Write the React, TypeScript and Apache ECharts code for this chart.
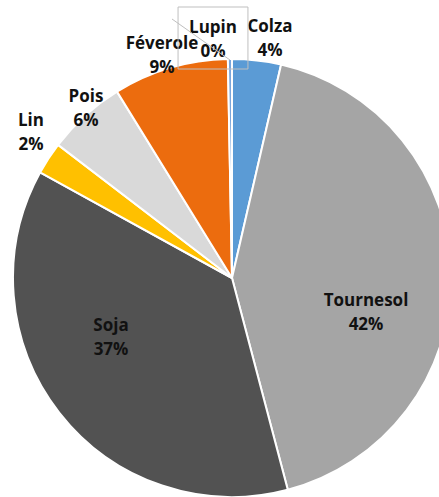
import React, { useEffect, useRef } from "react";
import * as echarts from "echarts";

const categories = ["Colza", "Tournesol", "Soja", "Lin", "Pois", "Féverole", "Lupin"];
const shares = [3.6, 42.3, 37.1, 2.4, 5.8, 8.5, 0.3];
const colors = ["#5B9BD5", "#A5A5A5", "#525252", "#FFC000", "#D9D9D9", "#EC6C0E", "#7AA6DA"];

// label anchor centres (layout only)
const labelAnchors: Record<string, [number, number]> = {
  Colza: [270, 37],
  Tournesol: [366, 311],
  Soja: [111, 336],
  Lin: [31, 131],
  Pois: [86, 107],
  "Féverole": [162, 54],
  Lupin: [213, 38],
};

export default function App() {
  const ref = useRef<HTMLDivElement>(null);
  useEffect(() => {
    if (!ref.current) return;
    const chart = echarts.init(ref.current, undefined, { renderer: "svg" });
    const data = categories.map((name, i) => {
      const item: any = { name, value: shares[i], itemStyle: { color: colors[i] } };
      if (name === "Lupin") {
        item.label = {
          borderColor: "#BFBFBF",
          borderWidth: 1,
          padding: [7, 11, 7, 11],
        };
      }
      return item;
    });
    chart.setOption({
      animation: false,
      backgroundColor: "#ffffff",
      graphic: [
        {
          type: "line",
          z: 100,
          shape: { x1: 172, y1: 19, x2: 230, y2: 60 },
          style: { stroke: "#BFBFBF", lineWidth: 1 },
        },
      ],
      series: [
        {
          type: "pie",
          center: [232, 278],
          radius: 219,
          startAngle: 90,
          clockwise: true,
          avoidLabelOverlap: false,
          itemStyle: { borderColor: "#ffffff", borderWidth: 2 },
          label: {
            show: true,
            position: "outside",
            formatter: (p: any) => `${p.name}\n${Math.round(p.value)}%`,
            fontFamily: "Open Sans",
            fontWeight: "bold",
            fontSize: 17,
            lineHeight: 24,
            color: "#111111",
            align: "center",
          },
          labelLine: { show: false },
          labelLayout: (params: any) => {
            const name = categories[params.dataIndex];
            const a = labelAnchors[name];
            return { x: a[0], y: a[1], align: "center", verticalAlign: "middle" };
          },
          data,
        },
      ],
    });
    return () => chart.dispose();
  }, []);
  return (
    <div
      ref={ref}
      style={{ position: "fixed", left: 0, top: 0, width: 439, height: 497 }}
    />
  );
}
